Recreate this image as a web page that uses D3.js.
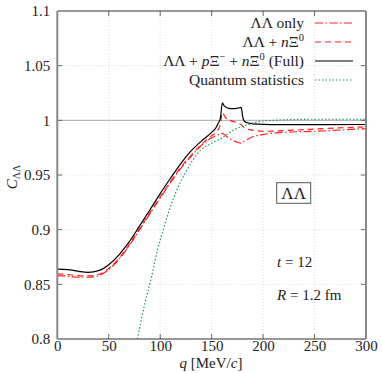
<!DOCTYPE html>
<html>
<head>
<meta charset="utf-8">
<script src="https://cdn.jsdelivr.net/npm/d3@7"></script>
<style>
  body { margin: 0; background: #fff; }
</style>
</head>
<body>
<div id="graph"></div>
<script>
const svgw = 382
const svgh = 373
const margin = { left: 57.3, right: 16, top: 11, bottom: 34 }
const serif = "'Liberation Serif', 'Times New Roman', 'DejaVu Serif', 'Noto Serif', serif"

// tick labels
const xTicks = [0, 50, 100, 150, 200, 250, 300]
const yTicks = [0.8, 0.85, 0.9, 0.95, 1, 1.05, 1.1]

// curves, q in MeV/c
const qFull = [0, 10, 20, 30, 40, 50, 60, 70, 80, 90, 100, 110, 120, 130, 140, 150, 154, 156.5, 158.5, 160.4, 162, 164, 167, 170, 173, 176, 178.7, 180.2, 182, 186, 195, 220, 260, 300]
const cFull = [0.864, 0.8635, 0.862, 0.861, 0.8625, 0.868, 0.877, 0.889, 0.9035, 0.918, 0.933, 0.947, 0.9605, 0.972, 0.981, 0.989, 0.993, 0.9975, 1.002, 1.016, 1.0135, 1.012, 1.011, 1.0108, 1.0108, 1.0113, 1.0118, 1.003, 0.999, 0.9975, 0.9965, 0.996, 0.996, 0.9962]

const qNXi = [0, 10, 20, 30, 40, 50, 60, 70, 80, 90, 100, 110, 120, 130, 140, 150, 155, 158, 160.4, 163, 168, 174, 178.7, 182, 190, 200, 230, 260, 300]
const cNXi = [0.8595, 0.859, 0.858, 0.8577, 0.859, 0.8645, 0.874, 0.8865, 0.901, 0.9155, 0.930, 0.944, 0.957, 0.968, 0.978, 0.986, 0.99, 0.995, 1.007, 1.003, 1.0, 0.998, 0.996, 0.993, 0.991, 0.990, 0.991, 0.9925, 0.994]

const qLL = [0, 10, 20, 30, 40, 50, 60, 70, 80, 90, 100, 110, 120, 130, 140, 150, 157, 160.4, 165, 170, 175, 178.7, 182, 190, 200, 220, 250, 300]
const cLL = [0.858, 0.8575, 0.8565, 0.8565, 0.858, 0.8635, 0.873, 0.8855, 0.900, 0.9145, 0.929, 0.943, 0.956, 0.967, 0.977, 0.984, 0.987, 0.988, 0.985, 0.982, 0.980, 0.979, 0.981, 0.985, 0.987, 0.989, 0.990, 0.9925]

const qQS = [77.8, 85, 91.6, 97, 103, 110, 116, 125, 138.5, 150, 160, 171, 185, 194, 210, 250, 300]
const cQS = [0.80, 0.832, 0.857, 0.88, 0.90, 0.921, 0.936, 0.953, 0.972, 0.979, 0.984, 0.991, 0.996, 0.9985, 1.0, 1.001, 1.001]

const labels = ['ΛΛ only', 'ΛΛ + nΞ0', 'ΛΛ + pΞ− + nΞ0 (Full)', 'Quantum statistics']

const series = [
    { q: qLL, c: cLL, color: '#ff2020', dash: '8,2.5,1.5,2.5', width: 1.2 },
    { q: qNXi, c: cNXi, color: '#ff2020', dash: '6,4', width: 1.2 },
    { q: qFull, c: cFull, color: '#000', dash: null, width: 1.2 },
    { q: qQS, c: cQS, color: '#1f9a5a', dash: '1.5,2', width: 1.2 }
]

const svg = d3.select('#graph')
    .append('svg')
    .attr('width', svgw)
    .attr('height', svgh)
    .style('font-family', serif)

const xScale = d3.scaleLinear()
    .domain([0, 300])
    .range([margin.left, svgw - margin.right])
const yScale = d3.scaleLinear()
    .domain([0.8, 1.1])
    .range([svgh - margin.bottom, margin.top])

const x0 = xScale(0), x1 = xScale(300), y0 = yScale(0.8), y1 = yScale(1.1)

// grid
svg.append('g').selectAll('line')
    .data(xTicks.slice(1, -1))
    .enter().append('line')
    .attr('x1', d => xScale(d)).attr('x2', d => xScale(d))
    .attr('y1', y0).attr('y2', y1)
    .attr('stroke', '#ccc').attr('stroke-width', 0.7).attr('stroke-dasharray', '1,2')
svg.append('g').selectAll('line')
    .data(yTicks.filter(v => v !== 0.8 && v !== 1.1 && v !== 1))
    .enter().append('line')
    .attr('x1', x0).attr('x2', x1)
    .attr('y1', d => yScale(d)).attr('y2', d => yScale(d))
    .attr('stroke', '#ccc').attr('stroke-width', 0.7).attr('stroke-dasharray', '1,2')

svg.append('line')
    .attr('x1', x0).attr('x2', x1)
    .attr('y1', yScale(1)).attr('y2', yScale(1))
    .attr('stroke', '#aaa').attr('stroke-width', 1)

// curves
svg.append('clipPath').attr('id', 'clip')
    .append('rect').attr('x', x0).attr('y', y1).attr('width', x1 - x0).attr('height', y0 - y1)

const line = d3.line()
    .x(d => xScale(d[0]))
    .y(d => yScale(d[1]))
    .curve(d3.curveMonotoneX)

series.forEach(s => {
    svg.append('path')
        .datum(s.q.map((q, i) => [q, s.c[i]]))
        .attr('d', line)
        .attr('fill', 'none')
        .attr('stroke', s.color)
        .attr('stroke-width', s.width)
        .attr('stroke-dasharray', s.dash)
        .attr('clip-path', 'url(#clip)')
})

// axes (gnuplot style, ticks inward, mirrored)
const xAxis = d3.axisBottom(xScale).tickValues(xTicks).tickSize(0).tickPadding(1.5)
const yAxis = d3.axisLeft(yScale).tickValues(yTicks).tickSize(0).tickPadding(7)
    .tickFormat(d => String(d))

svg.append('g')
    .attr('transform', `translate(0,${y0})`)
    .call(xAxis)
    .call(g => g.select('.domain').remove())
    .selectAll('text').attr('font-size', 15).style('font-family', serif).attr('fill', '#222')
svg.append('g')
    .attr('transform', `translate(${x0},0)`)
    .call(yAxis)
    .call(g => g.select('.domain').remove())
    .selectAll('text').attr('font-size', 15).style('font-family', serif).attr('fill', '#222')

const ticks = svg.append('g').attr('stroke', '#666').attr('stroke-width', 1)
xTicks.slice(1, -1).forEach(v => {
    ticks.append('line').attr('x1', xScale(v)).attr('x2', xScale(v)).attr('y1', y0).attr('y2', y0 - 5)
    ticks.append('line').attr('x1', xScale(v)).attr('x2', xScale(v)).attr('y1', y1).attr('y2', y1 + 5)
})
yTicks.slice(1, -1).forEach(v => {
    ticks.append('line').attr('x1', x0).attr('x2', x0 + 5).attr('y1', yScale(v)).attr('y2', yScale(v))
    ticks.append('line').attr('x1', x1).attr('x2', x1 - 5).attr('y1', yScale(v)).attr('y2', yScale(v))
})

// frame
svg.append('line').attr('x1', x0).attr('x2', x1).attr('y1', y1).attr('y2', y1).attr('stroke', '#333').attr('stroke-width', 1.2)
svg.append('line').attr('x1', x0).attr('x2', x1).attr('y1', y0).attr('y2', y0).attr('stroke', '#333').attr('stroke-width', 1.2)
svg.append('line').attr('x1', x0).attr('x2', x0).attr('y1', y1).attr('y2', y0).attr('stroke', '#888').attr('stroke-width', 2)
svg.append('line').attr('x1', x1).attr('x2', x1).attr('y1', y1).attr('y2', y0).attr('stroke', '#888').attr('stroke-width', 2)

// axis titles
const xt = svg.append('text')
    .attr('x', 211).attr('y', 368)
    .attr('text-anchor', 'middle').attr('font-size', 15).attr('fill', '#222')
xt.append('tspan').attr('font-style', 'italic').text('q')
xt.append('tspan').text(' [MeV/')
xt.append('tspan').attr('font-style', 'italic').text('c')
xt.append('tspan').text(']')

const yt = svg.append('text')
    .attr('transform', 'translate(17,177) rotate(-90)')
    .attr('text-anchor', 'middle').attr('font-size', 15).attr('fill', '#222')
yt.append('tspan').attr('font-style', 'italic').text('C')
yt.append('tspan').attr('font-size', 10).attr('dy', 3).text('ΛΛ')

// legend
const legY = [28, 47, 66, 85]
const leg = svg.append('g')
series.forEach((s, i) => {
    const t = leg.append('text')
        .attr('x', 304).attr('y', legY[i])
        .attr('text-anchor', 'end').attr('font-size', 15.5).attr('fill', '#222')
    if (i === 0) {
        t.text(labels[0])
    } else if (i === 1) {
        t.append('tspan').text('ΛΛ + ')
        t.append('tspan').attr('font-style', 'italic').text('n')
        t.append('tspan').text('Ξ')
        t.append('tspan').attr('font-size', 10.5).attr('dy', -6).text('0')
    } else if (i === 2) {
        t.append('tspan').text('ΛΛ + ')
        t.append('tspan').attr('font-style', 'italic').text('p')
        t.append('tspan').text('Ξ')
        t.append('tspan').attr('font-size', 10.5).attr('dy', -6).text('−')
        t.append('tspan').attr('dy', 6).text(' + ')
        t.append('tspan').attr('font-style', 'italic').text('n')
        t.append('tspan').text('Ξ')
        t.append('tspan').attr('font-size', 10.5).attr('dy', -6).text('0')
        t.append('tspan').attr('dy', 6).text(' (Full)')
    } else {
        t.text(labels[3])
    }
    leg.append('line')
        .attr('x1', 315).attr('x2', 353)
        .attr('y1', legY[i] - 5).attr('y2', legY[i] - 5)
        .attr('stroke', s.color)
        .attr('stroke-width', s.width)
        .attr('stroke-dasharray', s.dash)
})

// annotations
svg.append('rect')
    .attr('x', 276.7).attr('y', 182.7).attr('width', 34).attr('height', 20.6)
    .attr('fill', 'none').attr('stroke', '#555').attr('stroke-width', 1)
svg.append('text')
    .attr('x', 293.7).attr('y', 199).attr('text-anchor', 'middle').attr('font-size', 17).attr('fill', '#222')
    .text('ΛΛ')

const tt = svg.append('text').attr('x', 277).attr('y', 267).attr('font-size', 15).attr('fill', '#222')
tt.append('tspan').attr('font-style', 'italic').text('t')
tt.append('tspan').text(' = 12')

const rt = svg.append('text').attr('x', 277).attr('y', 300).attr('font-size', 15).attr('fill', '#222')
rt.append('tspan').attr('font-style', 'italic').text('R')
rt.append('tspan').text(' = 1.2 fm')
</script>
</body>
</html>
